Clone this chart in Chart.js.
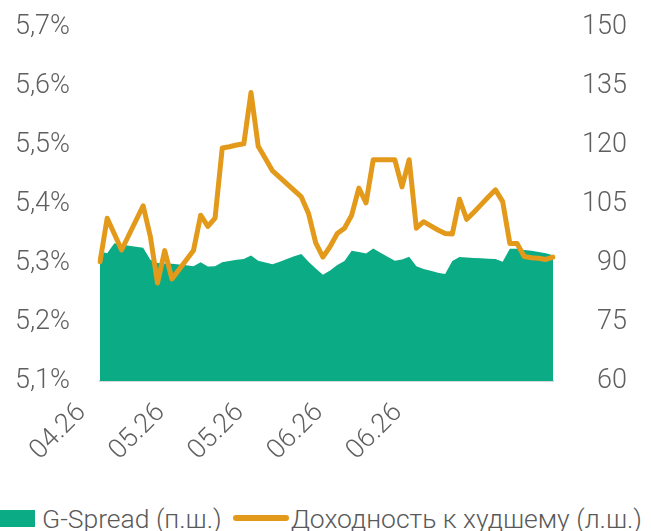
<!DOCTYPE html>
<html>
<head>
<meta charset="utf-8">
<script src="https://cdn.jsdelivr.net/npm/chart.js@4/dist/chart.umd.min.js"></script>
<style>
  html, body { margin: 0; padding: 0; background: #fff; }
  #wrap { position: relative; width: 651px; height: 531px; overflow: hidden; }
  #chart { position: absolute; left: 0; top: 0; }
  .legend { position: absolute; left: 0; top: 502px; height: 32px; display: flex; align-items: center;
            font-family: Roboto, "Noto Sans", sans-serif; font-weight: 300; font-size: 26.5px; color: #595959; white-space: nowrap; }
  .legend .box { width: 35px; height: 17px; background: #0bab85; margin-right: 7px; flex: none; }
  .legend .line { width: 56px; height: 6px; border-radius: 3px; background: #e39a1b; margin: 0 2px 0 11px; flex: none; }
</style>
</head>
<body>
<div id="wrap">
  <canvas id="chart" width="651" height="500"></canvas>
  <div class="legend">
    <span class="box"></span><span>G-Spread (п.ш.)</span>
    <span class="line"></span><span>Доходность к худшему (л.ш.)</span>
  </div>
</div>
<script>
// month of each trading day
const categories = [].concat(
  Array(11).fill('04.26'),
  Array(22).fill('05.26'),
  Array(31).fill('06.26')
);
// only these positions carry a tick label
const labelIndexes = [0, 11, 22, 33, 44];

// Доходность к худшему, % (left axis)
const ytwValues = [
  5.302, 5.376, 5.349, 5.322, 5.347, 5.372, 5.397, 5.345, 5.266, 5.321,
  5.273, 5.289, 5.305, 5.321, 5.381, 5.362, 5.376, 5.495, 5.497, 5.500,
  5.502, 5.589, 5.498, 5.477, 5.456, 5.445, 5.434, 5.423, 5.412, 5.384,
  5.334, 5.310, 5.328, 5.350, 5.359, 5.381, 5.427, 5.402, 5.475, 5.475,
  5.475, 5.475, 5.429, 5.475, 5.359, 5.370, 5.363, 5.356, 5.350, 5.349,
  5.408, 5.374, 5.386, 5.399, 5.412, 5.424, 5.404, 5.333, 5.333, 5.311,
  5.309, 5.308, 5.306, 5.310
];

// G-Spread, b.p. (right axis)
const gSpreadValues = [
  92.9, 92.5, 95.0, 94.7, 94.4, 94.1, 93.9, 90.8, 90.0, 89.9,
  89.8, 89.6, 89.4, 89.2, 90.2, 89.1, 89.2, 90.2, 90.5, 90.8,
  91.0, 91.9, 90.6, 90.1, 89.7, 90.3, 91.0, 91.7, 92.3, 90.3,
  88.6, 87.0, 88.1, 89.5, 90.5, 93.1, 92.8, 92.4, 93.7, 92.6,
  91.6, 90.6, 90.9, 91.6, 89.2, 88.5, 88.0, 87.5, 87.2, 90.5,
  91.5, 91.4, 91.3, 91.2, 91.1, 91.0, 90.3, 93.6, 93.6, 93.3,
  93.1, 92.8, 92.5, 92.0
];

const tickFont = { family: 'Roboto, "Noto Sans", sans-serif', size: 27, weight: '300' };
const textColor = '#5f5f5f';

const ctx = document.getElementById('chart').getContext('2d');
const chart = new Chart(ctx, {
  type: 'line',
  data: {
    labels: categories,
    datasets: [
      {
        label: 'Доходность к худшему (л.ш.)',
        data: ytwValues,
        yAxisID: 'y',
        borderColor: '#e39a1b',
        borderWidth: 5,
        borderJoinStyle: 'round',
        borderCapStyle: 'round',
        pointRadius: 0,
        tension: 0,
        fill: false,
        order: 0
      },
      {
        label: 'G-Spread (п.ш.)',
        data: gSpreadValues,
        yAxisID: 'y1',
        borderWidth: 0,
        backgroundColor: '#0bab85',
        pointRadius: 0,
        tension: 0,
        fill: 'start',
        order: 1
      }
    ]
  },
  options: {
    responsive: false,
    animation: false,
    layout: { padding: { left: 10, right: 24, top: 27, bottom: 0 } },
    plugins: {
      legend: { display: false },
      tooltip: { enabled: false }
    },
    scales: {
      x: {
        grid: { display: false, drawTicks: false },
        border: { display: true, color: '#d9d9d9', width: 2 },
        afterFit: function (scale) {
          scale.paddingLeft = 0;
          scale.paddingRight = 0;
          scale.height = 119;
        },
        ticks: {
          autoSkip: false,
          minRotation: 45,
          maxRotation: 45,
          padding: 16,
          labelOffset: -18,
          color: textColor,
          font: tickFont,
          callback: function (value, index) {
            return labelIndexes.includes(index) ? categories[index] : '';
          }
        }
      },
      y: {
        position: 'left',
        min: 5.1,
        max: 5.7,
        grid: { display: false, drawTicks: false },
        border: { display: false },
        afterFit: function (scale) {
          scale.width = 90;
          scale.paddingTop = 0;
          scale.paddingBottom = 0;
        },
        ticks: {
          stepSize: 0.1,
          padding: 30,
          color: textColor,
          font: tickFont,
          callback: v => v.toFixed(1).replace('.', ',') + '%'
        }
      },
      y1: {
        position: 'right',
        min: 60,
        max: 150,
        grid: { display: false, drawTicks: false },
        border: { display: false },
        afterFit: function (scale) {
          scale.width = 74;
          scale.paddingTop = 0;
          scale.paddingBottom = 0;
        },
        ticks: {
          stepSize: 15,
          padding: 30,
          crossAlign: 'far',
          color: textColor,
          font: tickFont
        }
      }
    }
  }
});
</script>
</body>
</html>
